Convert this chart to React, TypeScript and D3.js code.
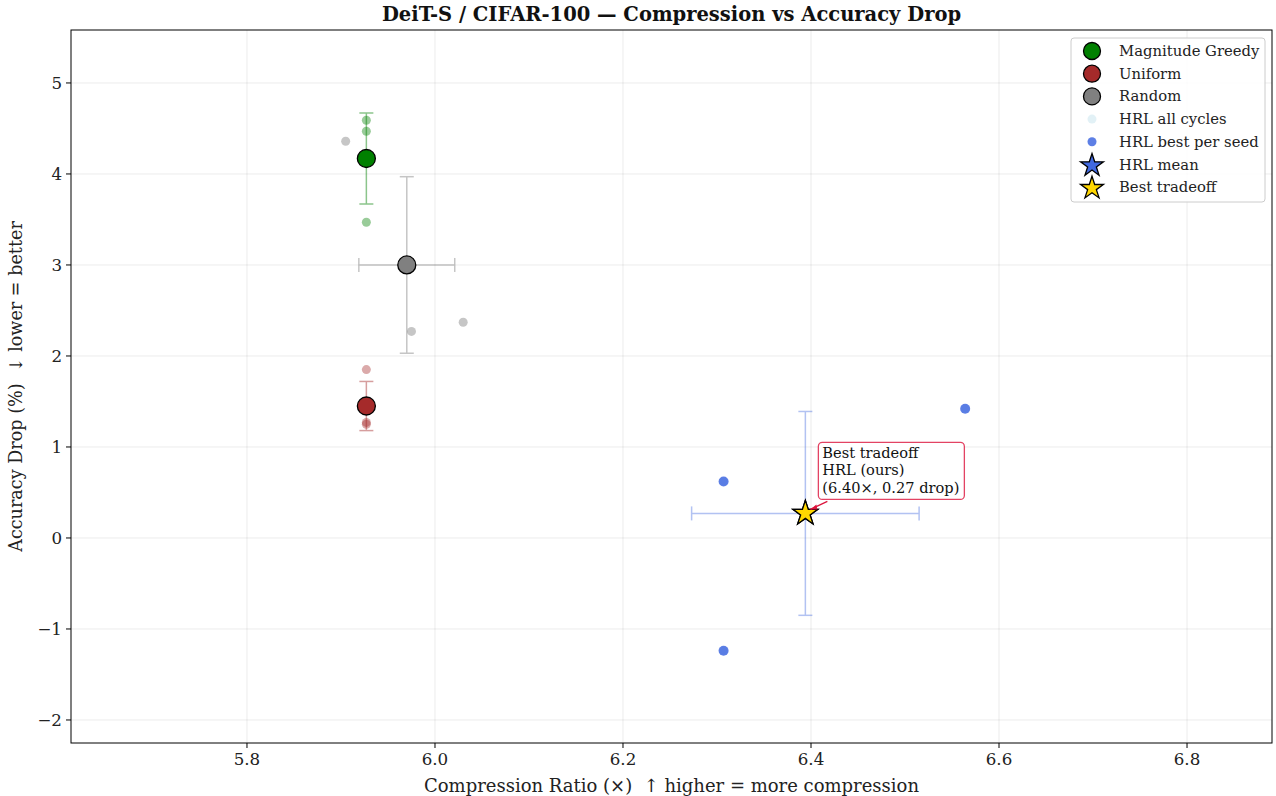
import React from 'react';
import * as d3 from 'd3';

// per-seed results (compression ratio, accuracy drop %)
const greedyRuns = [
  { x: 5.927, y: 4.59 },
  { x: 5.927, y: 4.47 },
  { x: 5.927, y: 3.47 },
];
const uniformRuns = [
  { x: 5.927, y: 1.85 },
  { x: 5.927, y: 1.27 },
  { x: 5.927, y: 1.25 },
];
const randomRuns = [
  { x: 5.905, y: 4.36 },
  { x: 5.975, y: 2.27 },
  { x: 6.03, y: 2.37 },
];
const hrlAllCycles = [
  { x: 6.307, y: 0.62 },
  { x: 6.307, y: -1.24 },
  { x: 6.564, y: 1.42 },
];
const hrlBestPerSeed = [
  { x: 6.307, y: 0.62 },
  { x: 6.307, y: -1.24 },
  { x: 6.564, y: 1.42 },
];

// mean ± std per method
const methodSummary = [
  { name: 'Magnitude Greedy', color: '#008000', mx: 5.927, my: 4.17, sx: 0, sy: 0.5 },
  { name: 'Uniform', color: '#a52a2a', mx: 5.927, my: 1.45, sx: 0, sy: 0.27 },
  { name: 'Random', color: '#808080', mx: 5.97, my: 3.0, sx: 0.051, sy: 0.97 },
];
const hrlMean = { mx: 6.394, my: 0.27, sx: 0.121, sy: 1.12 };

const xTicks = [5.8, 6.0, 6.2, 6.4, 6.6, 6.8];
const yTicks = [-2, -1, 0, 1, 2, 3, 4, 5];

const W = 1276;
const H = 796;
const M = { left: 71, right: 4, top: 30, bottom: 53 };
const FONT = '"DejaVu Serif", serif';

const x = d3.scaleLinear().domain([5.6128, 6.8904]).range([M.left, W - M.right]);
const y = d3.scaleLinear().domain([-2.253, 5.582]).range([H - M.bottom, M.top]);

const star = (r: number) => d3.symbol(d3.symbolStar, (r * r) / 0.8908130915292852)() as string;

const ErrBar = ({ mx, my, sx, sy, color, cap = 7 }: any) => (
  <g stroke={color} strokeWidth={1.5} fill="none">
    {sy > 0 && (
      <>
        <line x1={x(mx)} x2={x(mx)} y1={y(my - sy)} y2={y(my + sy)} />
        <line x1={x(mx) - cap} x2={x(mx) + cap} y1={y(my - sy)} y2={y(my - sy)} />
        <line x1={x(mx) - cap} x2={x(mx) + cap} y1={y(my + sy)} y2={y(my + sy)} />
      </>
    )}
    {sx > 0 && (
      <>
        <line x1={x(mx - sx)} x2={x(mx + sx)} y1={y(my)} y2={y(my)} />
        <line x1={x(mx - sx)} x2={x(mx - sx)} y1={y(my) - cap} y2={y(my) + cap} />
        <line x1={x(mx + sx)} x2={x(mx + sx)} y1={y(my) - cap} y2={y(my) + cap} />
      </>
    )}
  </g>
);

export default function App() {
  const runs = [greedyRuns, uniformRuns, randomRuns];
  const legendItems = [
    { label: 'Magnitude Greedy', kind: 'circle', fill: '#008000' },
    { label: 'Uniform', kind: 'circle', fill: '#a52a2a' },
    { label: 'Random', kind: 'circle', fill: '#808080' },
    { label: 'HRL all cycles', kind: 'dot', fill: '#add8e6', op: 0.35 },
    { label: 'HRL best per seed', kind: 'dot', fill: '#4169e1', op: 0.85 },
    { label: 'HRL mean', kind: 'star', fill: '#4169e1' },
    { label: 'Best tradeoff', kind: 'star', fill: '#ffd700' },
  ];
  const sx = x(hrlMean.mx);
  const sy = y(hrlMean.my);
  return (
    <svg width={W} height={H} style={{ position: 'absolute', left: 0, top: 0, background: '#fff' }} fontFamily={FONT}>
      <rect x={0} y={0} width={W} height={H} fill="#fff" />
      {/* grid */}
      <g stroke="#000" strokeOpacity={0.1} strokeWidth={0.8}>
        {xTicks.map((t) => (
          <line key={'gx' + t} x1={x(t)} x2={x(t)} y1={M.top} y2={H - M.bottom} />
        ))}
        {yTicks.map((t) => (
          <line key={'gy' + t} x1={M.left} x2={W - M.right} y1={y(t)} y2={y(t)} />
        ))}
      </g>

      {/* hrl all cycles */}
      {hrlAllCycles.map((d, i) => (
        <circle key={'ac' + i} cx={x(d.x)} cy={y(d.y)} r={4} fill="#add8e6" fillOpacity={0.35} />
      ))}

      {/* baseline per-seed points */}
      {runs.map((arr, k) =>
        arr.map((d, i) => (
          <circle key={`r${k}-${i}`} cx={x(d.x)} cy={y(d.y)} r={4.5} fill={methodSummary[k].color} fillOpacity={k === 2 ? 0.45 : 0.4} />
        ))
      )}

      {/* baseline error bars and means */}
      {methodSummary.map((m) => (
        <g key={m.name}>
          <g opacity={0.45}>
            <ErrBar {...m} color={m.color} />
          </g>
          <circle cx={x(m.mx)} cy={y(m.my)} r={9} fill={m.color} stroke="#000" strokeWidth={1.3} />
        </g>
      ))}

      {/* hrl best per seed */}
      {hrlBestPerSeed.map((d, i) => (
        <circle key={'bs' + i} cx={x(d.x)} cy={y(d.y)} r={5} fill="#4169e1" fillOpacity={0.85} />
      ))}

      {/* hrl mean */}
      <g opacity={0.4}>
        <ErrBar {...hrlMean} color="#4169e1" />
      </g>
      <path d={star(13)} transform={`translate(${sx},${sy})`} fill="#4169e1" stroke="#000" strokeWidth={1.3} />
      <path d={star(13)} transform={`translate(${sx},${sy})`} fill="#ffd700" stroke="#000" strokeWidth={1.3} />

      {/* annotation */}
      <line x1={sx + 22} y1={sy - 12} x2={sx + 5} y2={sy - 4} stroke="#dc143c" strokeWidth={1.3} />
      <path d={`M${sx + 5},${sy - 4} l6,-5 l1,5 z`} fill="#dc143c" />
      <rect x={sx + 13} y={sy - 71} width={146} height={57} rx={4} fill="#fff" stroke="#dc143c" strokeOpacity={0.8} strokeWidth={1.3} />
      <g fontSize={14.6} fill="#111">
        <text x={sx + 17} y={sy - 55}>Best tradeoff</text>
        <text x={sx + 17} y={sy - 38}>HRL (ours)</text>
        <text x={sx + 17} y={sy - 20}>(6.40×, 0.27 drop)</text>
      </g>

      {/* frame */}
      <rect x={M.left} y={M.top} width={W - M.left - M.right} height={H - M.top - M.bottom} fill="none" stroke="#000" strokeWidth={1} />

      {/* axes */}
      <g fontSize={16.7} fill="#222">
        {xTicks.map((t) => (
          <g key={'xt' + t}>
            <line x1={x(t)} x2={x(t)} y1={H - M.bottom} y2={H - M.bottom + 5} stroke="#000" />
            <text x={x(t)} y={H - M.bottom + 22} textAnchor="middle">{d3.format('.1f')(t)}</text>
          </g>
        ))}
        {yTicks.map((t) => (
          <g key={'yt' + t}>
            <line x1={M.left - 5} x2={M.left} y1={y(t)} y2={y(t)} stroke="#000" />
            <text x={M.left - 9} y={y(t) + 6} textAnchor="end">{t < 0 ? '−' + Math.abs(t) : t}</text>
          </g>
        ))}
      </g>
      <text x={(M.left + W - M.right) / 2} y={792} textAnchor="middle" fontSize={18} fill="#222" style={{ whiteSpace: 'pre' }}>
        {'Compression Ratio (×)  ↑ higher = more compression'}
      </text>
      <text
        transform={`translate(22,${(M.top + H - M.bottom) / 2}) rotate(-90)`}
        textAnchor="middle"
        fontSize={17.6}
        fill="#222"
        style={{ whiteSpace: 'pre' }}
      >
        {'Accuracy Drop (%)  ↓ lower = better'}
      </text>
      <text x={(M.left + W - M.right) / 2} y={21} textAnchor="middle" fontSize={19.5} fontWeight="bold" fill="#111">
        DeiT-S / CIFAR-100 — Compression vs Accuracy Drop
      </text>

      {/* legend */}
      <g transform="translate(1071,38)">
        <rect width={194} height={164} rx={3} fill="#fff" fillOpacity={0.85} stroke="#ccc" />
        {legendItems.map((it, i) => {
          const cy = 13 + i * 22.7;
          return (
            <g key={it.label}>
              {it.kind === 'circle' && <circle cx={21} cy={cy} r={8.5} fill={it.fill} stroke="#000" strokeWidth={1.3} />}
              {it.kind === 'dot' && <circle cx={21} cy={cy} r={4.5} fill={it.fill} fillOpacity={it.op} />}
              {it.kind === 'star' && <path d={star(12)} transform={`translate(21,${cy + 1})`} fill={it.fill} stroke="#000" strokeWidth={1.3} />}
              <text x={48} y={cy + 5} fontSize={14.8} fill="#222">{it.label}</text>
            </g>
          );
        })}
      </g>
    </svg>
  );
}
